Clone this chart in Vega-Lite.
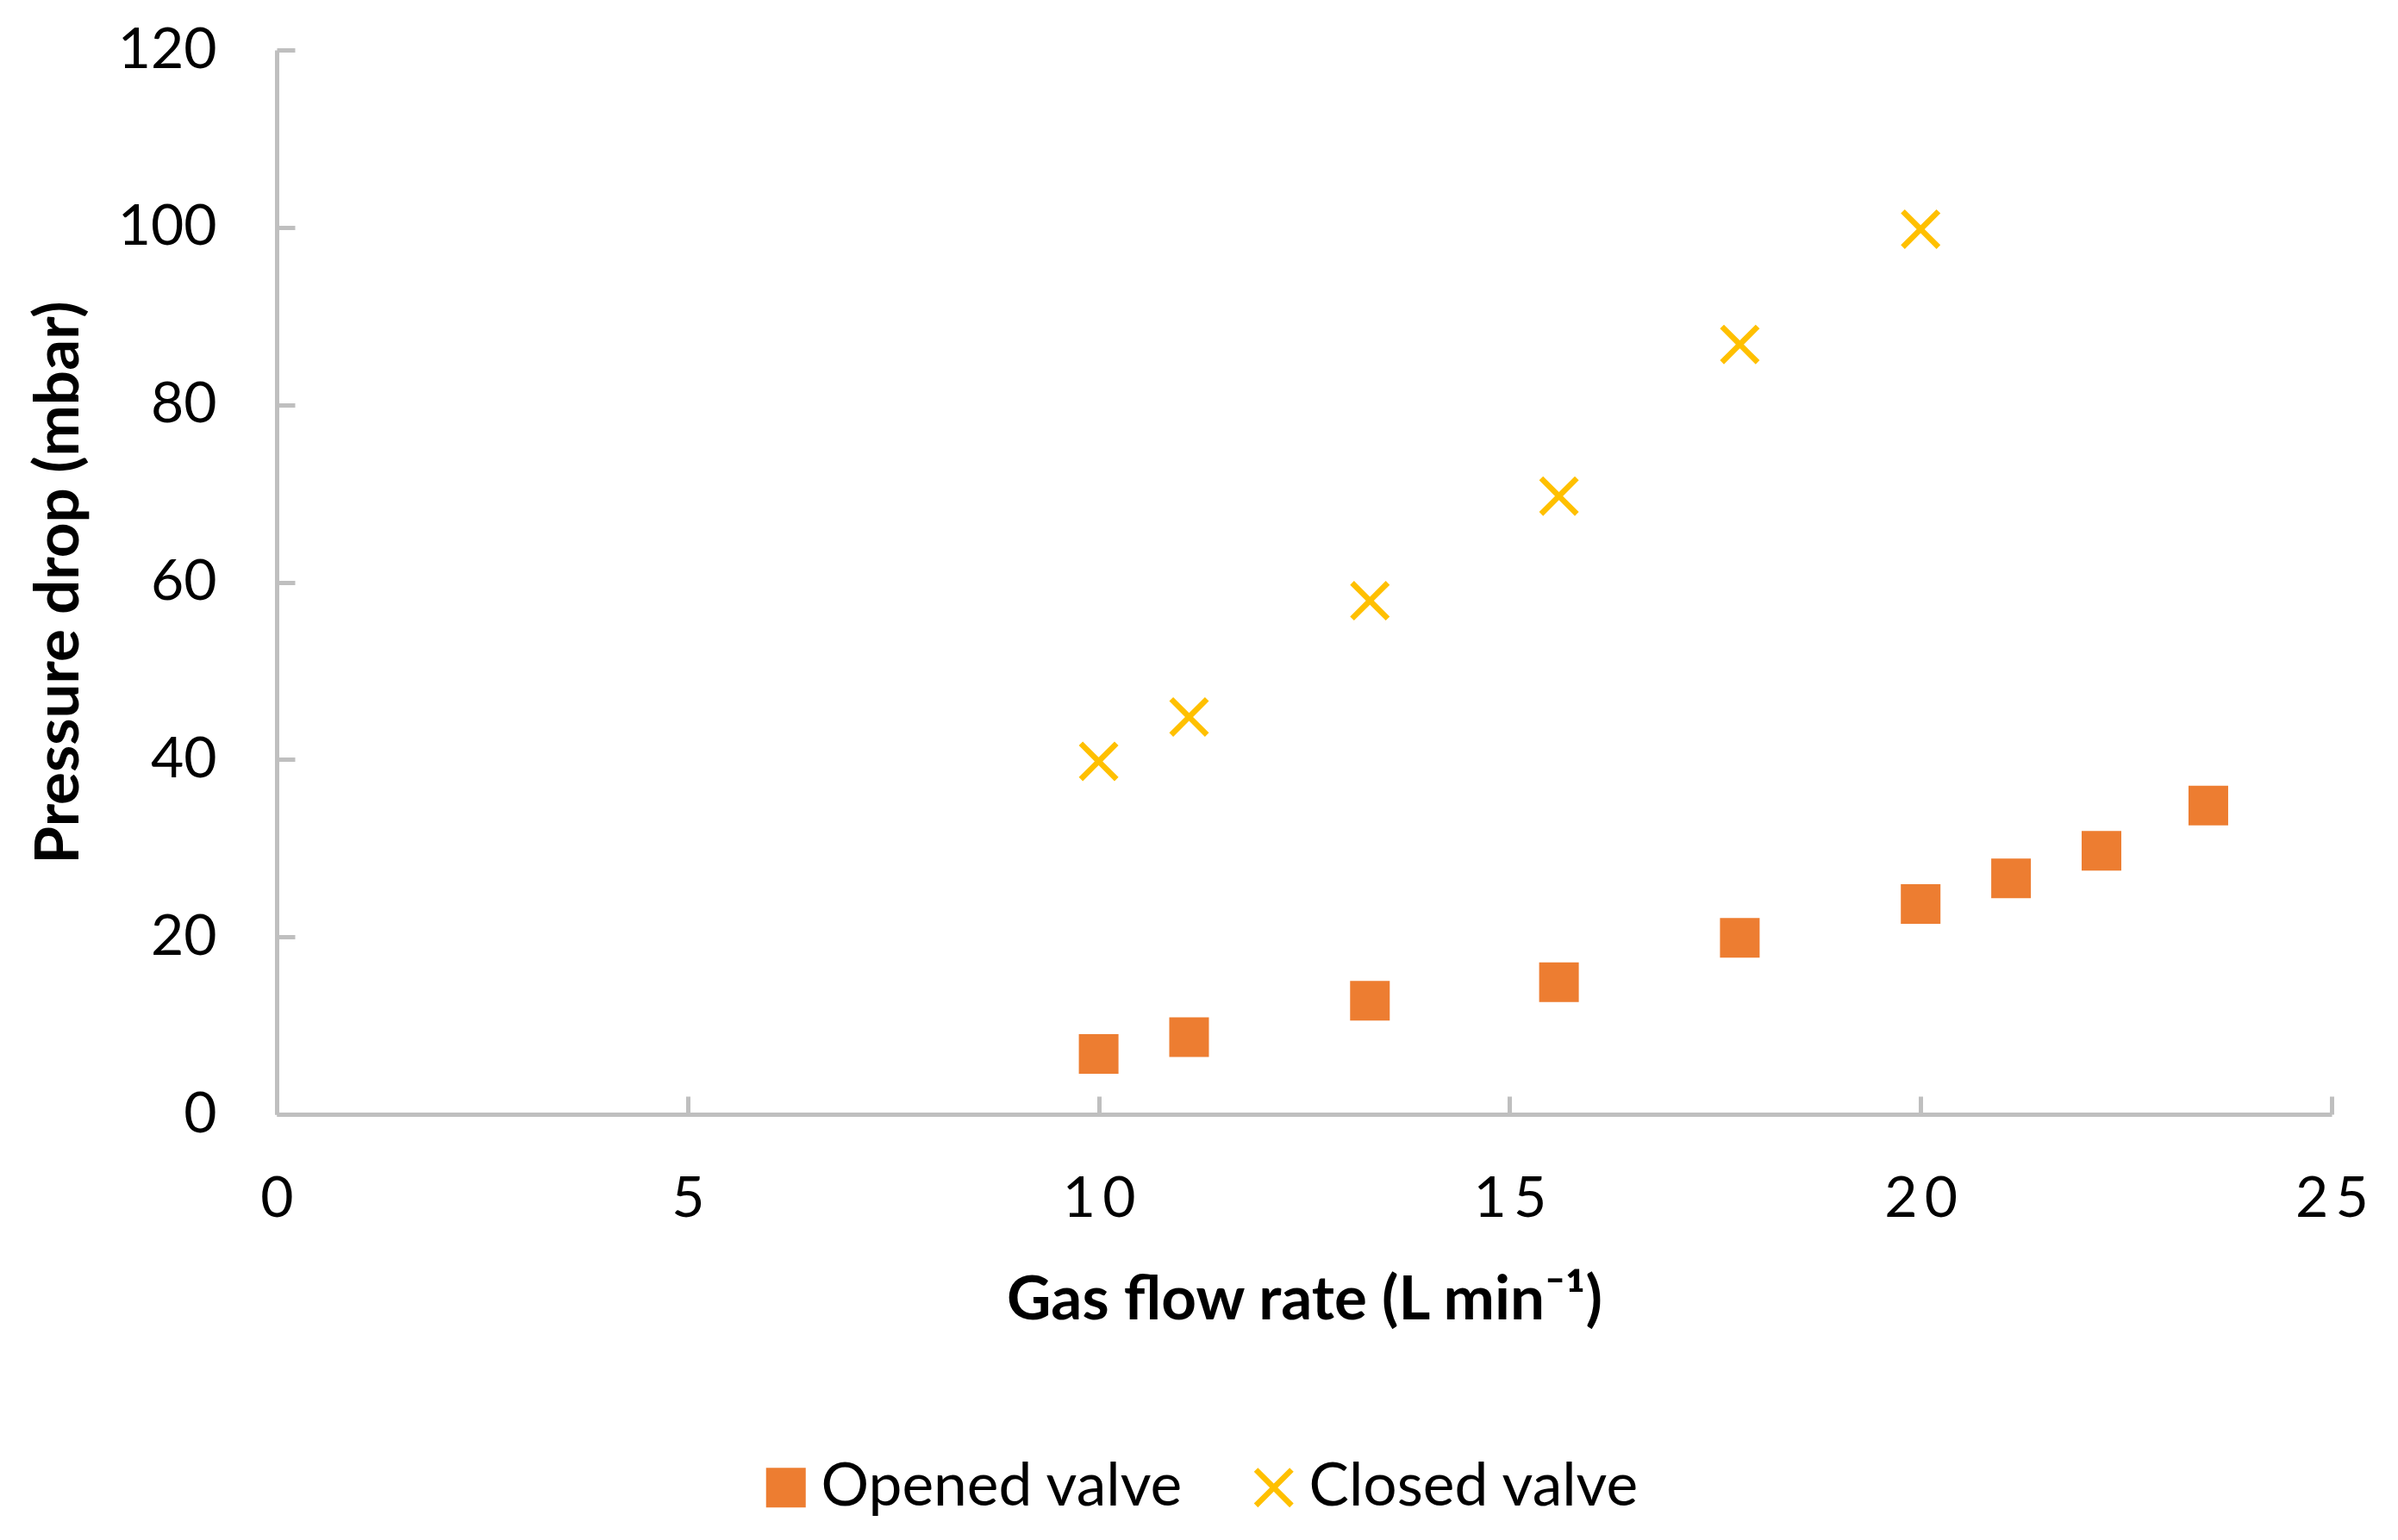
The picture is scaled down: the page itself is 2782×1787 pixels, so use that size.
{
  "$schema": "https://vega.github.io/schema/vega-lite/v6.json",
  "autosize": {"type": "none"},
  "padding": {"left": 321, "top": 58, "right": 77, "bottom": 494},
  "width": 2384,
  "height": 1235,
  "background": "white",
  "config": {
    "view": {"stroke": null},
    "font": "Lato",
    "axis": {
      "domainColor": "#BFBFBF",
      "domainWidth": 5,
      "tickColor": "#BFBFBF",
      "tickWidth": 5,
      "tickSize": -21,
      "grid": false,
      "labelFlush": false,
      "labelOverlap": false,
      "labelFont": "Lato",
      "labelFontSize": 66,
      "labelColor": "#000000",
      "titleFont": "Lato",
      "titleFontSize": 71,
      "titleFontWeight": "bold",
      "titleColor": "#000000"
    }
  },
  "data": {
    "values": [
      {"flow": 10.0, "dp": 6.8, "series": "Opened valve"},
      {"flow": 11.1, "dp": 8.7, "series": "Opened valve"},
      {"flow": 13.3, "dp": 12.8, "series": "Opened valve"},
      {"flow": 15.6, "dp": 14.9, "series": "Opened valve"},
      {"flow": 17.8, "dp": 19.9, "series": "Opened valve"},
      {"flow": 20.0, "dp": 23.7, "series": "Opened valve"},
      {"flow": 21.1, "dp": 26.6, "series": "Opened valve"},
      {"flow": 22.2, "dp": 29.7, "series": "Opened valve"},
      {"flow": 23.5, "dp": 34.8, "series": "Opened valve"},
      {"flow": 10.0, "dp": 39.8, "series": "Closed valve"},
      {"flow": 11.1, "dp": 44.8, "series": "Closed valve"},
      {"flow": 13.3, "dp": 57.9, "series": "Closed valve"},
      {"flow": 15.6, "dp": 69.7, "series": "Closed valve"},
      {"flow": 17.8, "dp": 86.8, "series": "Closed valve"},
      {"flow": 20.0, "dp": 99.8, "series": "Closed valve"}
    ]
  },
  "mark": {"type": "point", "filled": true, "opacity": 1, "size": 2116, "strokeWidth": 0},
  "encoding": {
    "x": {
      "field": "flow", "type": "quantitative",
      "scale": {"domain": [0, 25], "nice": false, "zero": true},
      "axis": {"values": [0, 5, 10, 15, 20, 25], "labelPadding": 87, "title": "Gas flow rate (L min⁻¹)", "titlePadding": 50,
        "labelExpr": "replace(datum.label, regexp('(\\\\d)(?=\\\\d)', 'g'), '$1\u2009')"}
    },
    "y": {
      "field": "dp", "type": "quantitative",
      "scale": {"domain": [0, 120], "nice": false},
      "axis": {"values": [0, 20, 40, 60, 80, 100, 120], "labelPadding": 91, "title": "Pressure drop (mbar)", "titlePadding": 31}
    },
    "color": {
      "field": "series", "type": "nominal",
      "scale": {"domain": ["Opened valve", "Closed valve"], "range": ["#ED7D31", "#FFC000"]},
      "legend": {
        "title": null, "orient": "none", "direction": "horizontal",
        "legendX": 556, "legendY": 1633,
        "labelFont": "Lato", "labelFontSize": 69.5, "labelColor": "#000000", "labelLimit": 0,
        "labelOffset": 6, "columnPadding": 70, "symbolSize": 2116, "symbolStrokeWidth": 0,
        "symbolOpacity": 1
      }
    },
    "shape": {
      "field": "series", "type": "nominal",
      "scale": {"domain": ["Opened valve", "Closed valve"], "range": ["square", "M-1,-0.8L-0.8,-1L0,-0.2L0.8,-1L1,-0.8L0.2,0L1,0.8L0.8,1L0,0.2L-0.8,1L-1,0.8L-0.2,0Z"]}
    }
  }
}
